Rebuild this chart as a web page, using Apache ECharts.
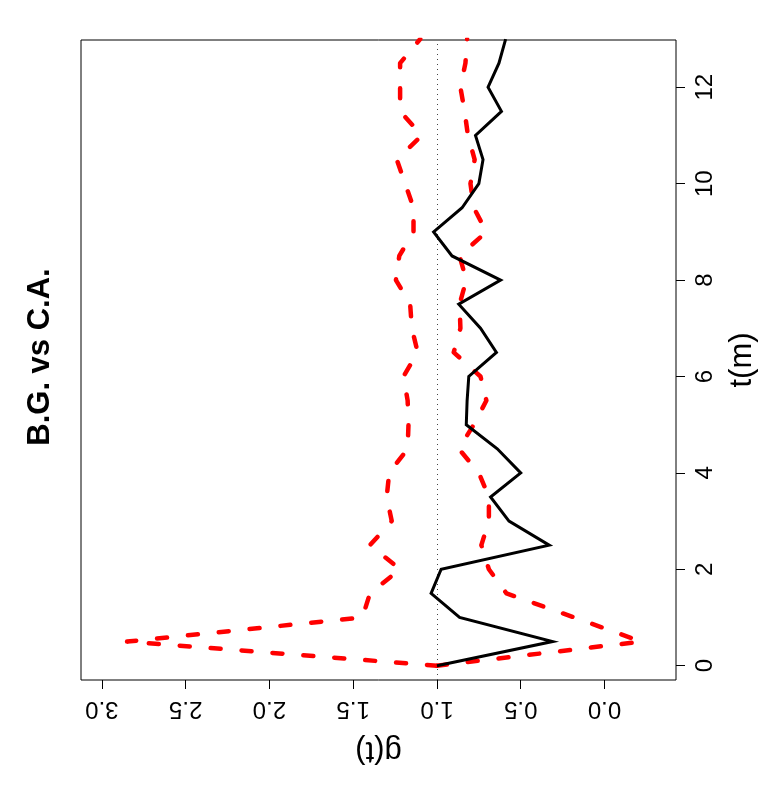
<!DOCTYPE html>
<html>
<head>
<meta charset="utf-8">
<script src="https://cdn.jsdelivr.net/npm/echarts@6/dist/echarts.min.js"></script>
<style>
  html, body { margin: 0; padding: 0; background: #fff; }
  #chart { width: 777px; height: 800px; }
</style>
</head>
<body>
<div id="chart"></div>
<script>
// distance t (m) and pair-correlation g(t): observed + simulation envelopes
const tValues = [0, 0.5, 1, 1.5, 2, 2.5, 3, 3.5, 4, 4.5, 5, 5.5, 6, 6.5,
  7, 7.5, 8, 8.5, 9, 9.5, 10, 10.5, 11, 11.5, 12, 12.5, 13];
const gObserved = [1.0, 0.31, 0.865, 1.035, 0.975, 0.33, 0.57, 0.68, 0.5, 0.64, 0.825, 0.82, 0.81, 0.645,
  0.74, 0.87, 0.62, 0.91, 1.02, 0.85, 0.75, 0.725, 0.77, 0.615, 0.695, 0.63, 0.59];
const gUpper = [1.0, 2.85, 1.445, 1.4, 1.22, 1.4, 1.27, 1.3, 1.285, 1.175, 1.17, 1.175, 1.2, 1.115,
  1.15, 1.16, 1.245, 1.225, 1.14, 1.14, 1.19, 1.24, 1.09, 1.22, 1.22, 1.22, 1.1];
const gLower = [1.0, -0.22, 0.18, 0.585, 0.69, 0.735, 0.69, 0.69, 0.75, 0.87, 0.78, 0.705, 0.74, 0.9,
  0.86, 0.865, 0.825, 0.865, 0.705, 0.78, 0.8, 0.775, 0.815, 0.835, 0.86, 0.83, 0.82];
const gTicks = [0, 0.5, 1, 1.5, 2, 2.5, 3];
const tTicks = [0, 2, 4, 6, 8, 10, 12];

const FONT = '"Liberation Sans", Arial, Helvetica, sans-serif';

const pairs = (gs) => tValues.map((t, i) => [gs[i], t]);

const dashedRed = {
  color: '#ff0000',
  width: 4.5,
  type: [10, 21],
  cap: 'round',
  join: 'round',
};

const option = {
  backgroundColor: '#fff',
  animation: false,
  grid: {
    left: 81,
    right: 101,
    top: 40,
    bottom: 120,
    show: true,
    borderColor: '#000',
    borderWidth: 1,
    backgroundColor: 'transparent',
  },
  graphic: [
    {
      type: 'text',
      x: 40,
      y: 357,
      rotation: Math.PI / 2,
      style: {
        text: 'B.G. vs C.A.',
        font: 'bold 31px ' + FONT,
        fill: '#000',
        align: 'center',
        verticalAlign: 'middle',
      },
    },
  ],
  xAxis: {
    type: 'value',
    min: -0.427,
    max: 3.125,
    inverse: true,
    position: 'bottom',
    name: 'g(t)',
    nameLocation: 'middle',
    nameGap: 55,
    nameRotate: 180,
    nameTextStyle: { fontFamily: FONT, fontSize: 31, color: '#000' },
    axisLine: { show: false, onZero: false },
    axisTick: {
      show: true,
      length: 9,
      lineStyle: { color: '#000', width: 1 },
      customValues: gTicks,
    },
    axisLabel: {
      rotate: 180,
      margin: 17,
      fontFamily: FONT,
      fontSize: 24,
      color: '#000',
      customValues: gTicks,
      formatter: (v) => v.toFixed(1),
    },
    splitLine: { show: false },
  },
  yAxis: {
    type: 'value',
    min: -0.297,
    max: 12.98,
    position: 'right',
    name: 't(m)',
    nameLocation: 'middle',
    nameGap: 51,
    nameRotate: 90,
    nameTextStyle: { fontFamily: FONT, fontSize: 31, color: '#000' },
    axisLine: { show: false, onZero: false },
    axisTick: {
      show: true,
      length: 9,
      lineStyle: { color: '#000', width: 1 },
      customValues: tTicks,
    },
    axisLabel: {
      rotate: 90,
      margin: 17,
      fontFamily: FONT,
      fontSize: 24,
      color: '#000',
      customValues: tTicks,
    },
    splitLine: { show: false },
  },
  series: [
    {
      name: 'upper',
      type: 'line',
      data: pairs(gUpper),
      showSymbol: false,
      lineStyle: dashedRed,
      z: 3,
    },
    {
      name: 'lower',
      type: 'line',
      data: pairs(gLower),
      showSymbol: false,
      lineStyle: dashedRed,
      z: 3,
    },
    {
      name: 'observed',
      type: 'line',
      data: pairs(gObserved),
      showSymbol: false,
      lineStyle: { color: '#000', width: 3, join: 'miter' },
      z: 4,
      markLine: {
        silent: true,
        symbol: 'none',
        label: { show: false },
        lineStyle: { color: '#444', width: 1, type: [1, 4] },
        data: [{ xAxis: 1 }],
        z: 2,
      },
    },
  ],
};

const chart = echarts.init(document.getElementById('chart'));
chart.setOption(option);
window.addEventListener('resize', () => {
  chart.resize();
});
</script>
</body>
</html>
